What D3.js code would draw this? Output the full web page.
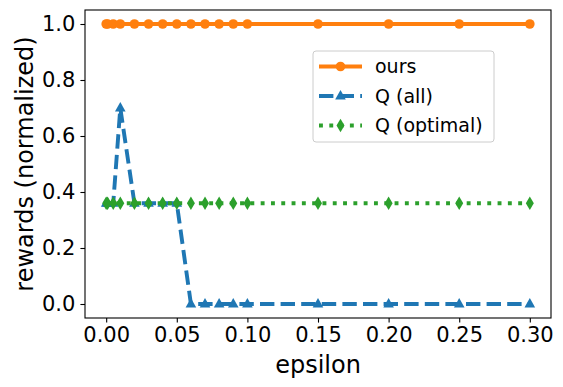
<!DOCTYPE html>
<html>
<head>
<meta charset="utf-8">
<script src="https://cdn.jsdelivr.net/npm/d3@7"></script>
<style>
body { margin: 0; background: #fff; }
svg text { font-family: "DejaVu Sans", sans-serif; fill: #000; }
</style>
</head>
<body>
<svg id="chart" width="563" height="387"></svg>
<script>
// data
var epsilon = [0, 0.001, 0.005, 0.01, 0.02, 0.03, 0.04, 0.05, 0.06, 0.07, 0.08, 0.09, 0.1, 0.15, 0.2, 0.25, 0.3];
var ours = [1, 1, 1, 1, 1, 1, 1, 1, 1, 1, 1, 1, 1, 1, 1, 1, 1];
var qAll = [0.36, 0.36, 0.36, 0.70, 0.36, 0.36, 0.36, 0.36, 0, 0, 0, 0, 0, 0, 0, 0, 0];
var qOptimal = [0.36, 0.36, 0.36, 0.36, 0.36, 0.36, 0.36, 0.36, 0.36, 0.36, 0.36, 0.36, 0.36, 0.36, 0.36, 0.36, 0.36];
var xTicks = [0, 0.05, 0.1, 0.15, 0.2, 0.25, 0.3];
var yTicks = [0, 0.2, 0.4, 0.6, 0.8, 1.0];

var series = [
    { name: "ours", values: ours, color: "#ff7f0e", dash: null, marker: "circle" },
    { name: "Q (all)", values: qAll, color: "#1f77b4", dash: "14.4,6.2", marker: "triangle" },
    { name: "Q (optimal)", values: qOptimal, color: "#2ca02c", dash: "3.9,6.4", marker: "thin_diamond" }
];

var svg = d3.select("#chart");
var margin = { top: 10, right: 12, bottom: 69, left: 85 };
var width = 563 - margin.left - margin.right,
    height = 387 - margin.top - margin.bottom;

var g = svg.append("g")
    .attr("transform", `translate(${margin.left},${margin.top})`);

var x = d3.scaleLinear().domain([-0.015, 0.315]).range([0, width]);
var y = d3.scaleLinear().domain([-0.05, 1.05]).range([height, 0]);

// axes
var xAxis = g.append("g")
    .attr("transform", `translate(0,${height})`)
    .call(d3.axisBottom(x).tickValues(xTicks).tickFormat(d3.format(".2f")).tickSizeOuter(0).tickSize(4.6).tickPadding(4));
var yAxis = g.append("g")
    .call(d3.axisLeft(y).tickValues(yTicks).tickFormat(d3.format(".1f")).tickSizeOuter(0).tickSize(4.6).tickPadding(5));
[xAxis, yAxis].forEach(a => {
    a.select(".domain").remove();
    a.attr("font-size", null).attr("font-family", null);
    a.selectAll("text").style("font-size", "21px");
    a.selectAll("line").attr("stroke", "#000").attr("stroke-width", 1.1);
});

// frame
g.append("rect")
    .attr("width", width)
    .attr("height", height)
    .attr("fill", "none")
    .attr("stroke", "#000")
    .attr("stroke-width", 1.1);

var line = d3.line()
    .x((d, i) => x(epsilon[i]))
    .y(d => y(d));

function drawMarker(sel, type, color) {
    if (type == "circle") {
        sel.append("circle").attr("r", 4.8).attr("fill", color);
    } else if (type == "triangle") {
        sel.append("path").attr("d", "M0,-6L5.3,3.6L-5.3,3.6Z").attr("fill", color);
    } else {
        sel.append("path").attr("d", "M0,-6.8L4,0L0,6.8L-4,0Z").attr("fill", color);
    }
}

series.forEach(s => {
    g.append("path")
        .datum(s.values)
        .attr("d", line)
        .attr("fill", "none")
        .attr("stroke", s.color)
        .attr("stroke-width", 3.9)
        .attr("stroke-dasharray", s.dash);
    g.append("g").selectAll("g")
        .data(s.values)
        .join("g")
        .attr("transform", (d, i) => `translate(${x(epsilon[i])},${y(d)})`)
        .each(function() { drawMarker(d3.select(this), s.marker, s.color); });
});

// labels
svg.append("text")
    .attr("x", margin.left + width / 2)
    .attr("y", 373)
    .attr("text-anchor", "middle")
    .style("font-size", "24px")
    .text("epsilon");

svg.append("text")
    .attr("transform", "rotate(-90)")
    .attr("x", -(margin.top + height / 2))
    .attr("y", 33)
    .attr("text-anchor", "middle")
    .style("font-size", "24px")
    .text("rewards (normalized)");

// legend
var legend = svg.append("g").attr("transform", "translate(313,51)");
legend.append("rect")
    .attr("width", 181)
    .attr("height", 91)
    .attr("rx", 3)
    .attr("fill", "#fff")
    .attr("fill-opacity", 0.8)
    .attr("stroke", "#ccc");
series.forEach((s, i) => {
    var row = legend.append("g").attr("transform", `translate(0,${15.5 + i * 29.5})`);
    row.append("line")
        .attr("x1", 6).attr("x2", 49)
        .attr("stroke", s.color)
        .attr("stroke-width", 3.9)
        .attr("stroke-dasharray", s.dash);
    drawMarker(row.append("g").attr("transform", "translate(27.5,0)"), s.marker, s.color);
    row.append("text")
        .attr("x", 62)
        .attr("y", 6.5)
        .style("font-size", "19px")
        .text(s.name);
});
</script>
</body>
</html>
